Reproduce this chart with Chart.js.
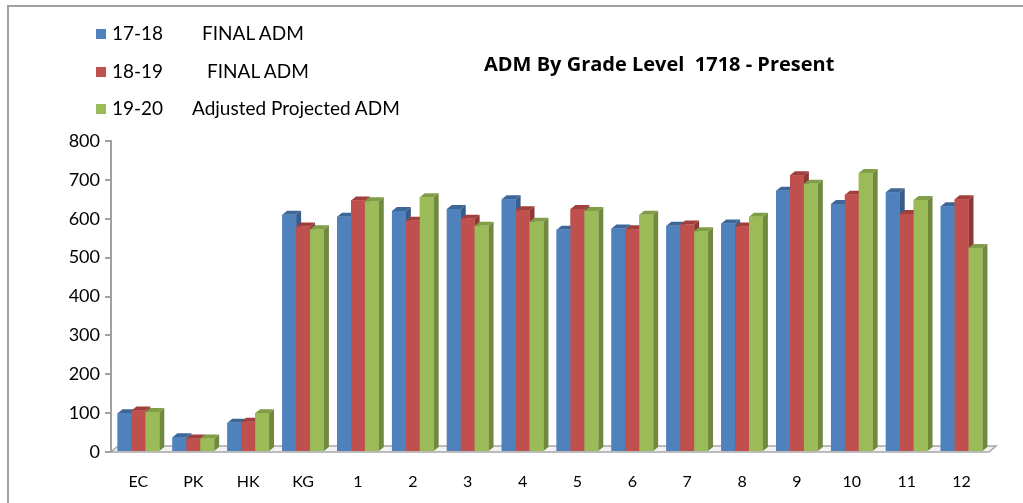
<!DOCTYPE html>
<html>
<head>
<meta charset="utf-8">
<script src="https://cdn.jsdelivr.net/npm/chart.js@4/dist/chart.umd.min.js"></script>
<style>
  html, body { margin: 0; padding: 0; background: #fff; }
  #wrap { position: relative; width: 1023px; height: 503px; overflow: hidden; font-family: Lato, "Open Sans", sans-serif; }
  #frame { position: absolute; left: 7px; top: 5px; width: 1030px; height: 520px; border-left: 2px solid #a0a0a0; border-top: 2px solid #a0a0a0; }
  canvas { position: absolute; left: 0; top: 0; }
  .lg { position: absolute; font-size: 19px; color: #000; white-space: pre; line-height: 20px; }
  .sw { position: absolute; width: 10px; height: 10px; }
  #title { position: absolute; left: 484px; top: 50px; font-family: "Open Sans", sans-serif; font-size: 20px; font-weight: bold; white-space: pre; color: #000; }
</style>
</head>
<body>
<div id="wrap">
  <div id="frame"></div>
  <canvas id="myChart" width="1023" height="503"></canvas>
  <div class="sw" style="left:96px;top:29px;background:#4F81BD"></div>
  <div class="lg" style="left:112px;top:23px">17-18</div>
  <div class="lg" style="left:202px;top:23px">FINAL ADM</div>
  <div class="sw" style="left:96px;top:67px;background:#C0504D"></div>
  <div class="lg" style="left:112px;top:61px">18-19</div>
  <div class="lg" style="left:207px;top:61px">FINAL ADM</div>
  <div class="sw" style="left:96px;top:104px;background:#9BBB59"></div>
  <div class="lg" style="left:112px;top:98px">19-20</div>
  <div class="lg" style="left:192px;top:98px">Adjusted Projected ADM</div>
  <div id="title">ADM By Grade Level  1718 - Present</div>
</div>
<script>
// categorias e valores
var grades = ['EC', 'PK', 'HK', 'KG', '1', '2', '3', '4', '5', '6', '7', '8', '9', '10', '11', '12'];
var adm1718 = [100, 38, 75, 610, 605, 620, 625, 650, 572, 575, 582, 588, 672, 638, 668, 632];
var adm1819 = [107, 35, 78, 580, 647, 595, 600, 622, 625, 573, 585, 580, 712, 662, 612, 650];
var adm1920 = [103, 35, 100, 573, 645, 655, 582, 592, 620, 610, 568, 605, 690, 718, 648, 525];
var yTicks = [0, 100, 200, 300, 400, 500, 600, 700, 800];

var fronts = ['#4F81BD', '#C0504D', '#9BBB59'];
var sides = ['#385D8A', '#8C3836', '#71893F'];
var tops = ['#3E6797', '#A03F3C', '#809E47'];
var DX = 5, DY = 4;

// plugin para o efeito 3D das barras
var bars3d = {
    id: 'bars3d',
    beforeDatasetsDraw: function(chart) {
        var c = chart.ctx, a = chart.chartArea;
        c.save();
        c.beginPath();
        c.moveTo(a.left, a.bottom);
        c.lineTo(a.right, a.bottom);
        c.lineTo(a.right + DX + 2, a.bottom - DY - 2);
        c.lineTo(a.left + DX + 2, a.bottom - DY - 2);
        c.closePath();
        c.fillStyle = '#f2f2f2';
        c.fill();
        c.strokeStyle = '#a6a6a6';
        c.lineWidth = 1.5;
        c.stroke();
        c.restore();
    },
    afterDatasetsDraw: function(chart) {
        var c = chart.ctx;
        c.save();
        for (var i = 0; i < grades.length; i++) {
            for (var d = 0; d < 3; d++) {
                var el = chart.getDatasetMeta(d).data[i];
                var l = el.x - el.width / 2, r = el.x + el.width / 2;
                var t = el.y, b = el.base;
                // lado
                c.beginPath();
                c.moveTo(r, t); c.lineTo(r + DX, t - DY); c.lineTo(r + DX, b - DY); c.lineTo(r, b);
                c.closePath();
                c.fillStyle = sides[d];
                c.fill();
                // topo
                c.beginPath();
                c.moveTo(l, t); c.lineTo(l + DX, t - DY); c.lineTo(r + DX, t - DY); c.lineTo(r, t);
                c.closePath();
                c.fillStyle = tops[d];
                c.fill();
                // frente
                c.fillStyle = fronts[d];
                c.fillRect(l, t, r - l, b - t);
            }
        }
        c.restore();
    }
};

var labels = ['17-18      FINAL ADM', '18-19       FINAL ADM', '19-20    Adjusted Projected ADM'];
var series = [adm1718, adm1819, adm1920];
var datasets = series.map(function(s, k) {
    return { label: labels[k], data: s, backgroundColor: fronts[k], borderWidth: 0 };
});

var ctx = document.getElementById('myChart').getContext('2d');
var myChart = new Chart(ctx, {
    type: 'bar',
    data: { labels: grades, datasets: datasets },
    plugins: [bars3d],
    options: {
        responsive: false,
        animation: false,
        layout: { padding: { left: 0, top: 141, right: 34, bottom: 0 } },
        datasets: { bar: { categoryPercentage: 0.76, barPercentage: 1.0 } },
        plugins: { legend: { display: false }, title: { display: false }, tooltip: { enabled: false } },
        scales: {
            x: {
                grid: { display: false },
                border: { display: false },
                ticks: { color: '#000', font: { family: 'Lato', size: 16 }, padding: 12, maxRotation: 0 },
                afterFit: function(scale) { scale.height = 51; }
            },
            y: {
                min: 0,
                max: 800,
                afterBuildTicks: function(scale) { scale.ticks = yTicks.map(function(v) { return { value: v }; }); },
                grid: { drawOnChartArea: false, drawTicks: true, tickLength: 6, color: '#a0a0a0', lineWidth: 2 },
                border: { color: '#a0a0a0', width: 2 },
                ticks: { color: '#000', font: { family: 'Lato', size: 18 }, padding: 5 },
                afterFit: function(scale) { scale.width = 111; }
            }
        }
    }
});
</script>
</body>
</html>
